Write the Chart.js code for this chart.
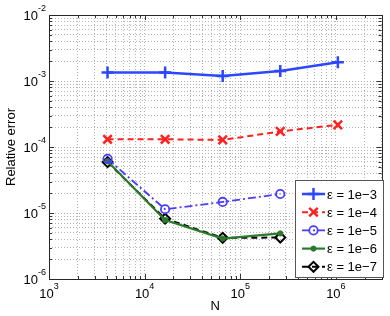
<!DOCTYPE html>
<html>
<head>
<meta charset="utf-8">
<script src="https://cdn.jsdelivr.net/npm/chart.js@4/dist/chart.umd.min.js"></script>
<style>
  body { margin: 0; background: #fff; }
  canvas { display: block; }
</style>
</head>
<body>
<canvas id="errChart" width="390" height="316"></canvas>
<script>
// problem sizes N (4^6 .. 4^10)
const nValues = [4096, 16384, 65536, 262144, 1048576];

// relative error per epsilon
const err1e3 = [1.35e-3, 1.34e-3, 1.19e-3, 1.42e-3, 1.93e-3];
const err1e4 = [1.31e-4, 1.31e-4, 1.28e-4, 1.72e-4, 2.17e-4];
const err1e5 = [6.6e-5, 1.14e-5, 1.47e-5, 1.94e-5];
const err1e6 = [6.1e-5, 7.8e-6, 4.1e-6, 4.9e-6];
const err1e7 = [5.9e-5, 8.2e-6, 4.2e-6, 4.25e-6];

const seriesLabels = ["\u03b5 = 1e\u22123", "\u03b5 = 1e\u22124", "\u03b5 = 1e\u22125", "\u03b5 = 1e\u22126", "\u03b5 = 1e\u22127"];

// axis ranges / decade labels
const xMin = 1e3, xMax = 3e6;
const yMin = 1e-6, yMax = 1e-2;
const xDecades = [3, 4, 5, 6];
const yDecades = [-2, -3, -4, -5, -6];

const FONT = '"Liberation Sans", Arial, sans-serif';

function toPoints(ys){
    return ys.map(function(y, i){ return {x: nValues[i], y: y}; });
}

function logTicks(min, max){
    const out = [];
    const e0 = Math.floor(Math.log10(min));
    const e1 = Math.ceil(Math.log10(max));
    for (let e = e0; e <= e1; e++){
        for (let m = 1; m < 10; m++){
            const v = parseFloat((m * Math.pow(10, e)).toPrecision(6));
            if (v >= min * 0.999 && v <= max * 1.001) out.push(v);
        }
    }
    return out;
}

// box, inward ticks, tick labels, axis titles, legend
const decorPlugin = {
    id: "decor",
    afterDraw: function(chart){
        const ctx = chart.ctx;
        const a = chart.chartArea;
        const sx = chart.scales.x, sy = chart.scales.y;
        ctx.save();

        // inward ticks
        ctx.strokeStyle = "#333";
        ctx.lineWidth = 1;
        ctx.beginPath();
        logTicks(xMin, xMax).forEach(function(v){
            const px = Math.round(sx.getPixelForValue(v)) + 0.5;
            const major = Math.abs(Math.log10(v) % 1) < 1e-6;
            const len = major ? 5 : 3;
            ctx.moveTo(px, a.bottom); ctx.lineTo(px, a.bottom - len);
            ctx.moveTo(px, a.top); ctx.lineTo(px, a.top + len);
        });
        logTicks(yMin, yMax).forEach(function(v){
            const py = Math.round(sy.getPixelForValue(v)) + 0.5;
            const major = Math.abs(Math.log10(v) % 1) < 1e-6;
            const len = major ? 5 : 3;
            ctx.moveTo(a.left, py); ctx.lineTo(a.left + len, py);
            ctx.moveTo(a.right, py); ctx.lineTo(a.right - len, py);
        });
        ctx.stroke();

        // frame
        ctx.strokeStyle = "#262626";
        ctx.strokeRect(Math.round(a.left) + 0.5, Math.round(a.top) + 0.5,
                       Math.round(a.right - a.left), Math.round(a.bottom - a.top));

        // tick labels 10^n
        ctx.fillStyle = "#000";
        ctx.textBaseline = "middle";
        ctx.textAlign = "left";
        const baseFont = "13px " + FONT, supFont = "9px " + FONT;
        function label(exp, px, py, align){
            ctx.font = baseFont;
            const bw = ctx.measureText("10").width;
            ctx.font = supFont;
            const sup = String(exp);
            const sw = ctx.measureText(sup).width;
            let x0 = align === "right" ? px - bw - sw : px - (bw + sw) / 2;
            ctx.font = baseFont;
            ctx.fillText("10", x0, py);
            ctx.font = supFont;
            ctx.fillText(sup, x0 + bw, py - 7);
        }
        xDecades.forEach(function(e){
            label(e, sx.getPixelForValue(Math.pow(10, e)), 294, "center");
        });
        yDecades.forEach(function(e){
            label(e, a.left - 3, sy.getPixelForValue(Math.pow(10, e)) + 1, "right");
        });

        // axis titles
        ctx.font = "13px " + FONT;
        ctx.textAlign = "center";
        ctx.fillText("N", (a.left + a.right) / 2, 306);
        ctx.save();
        ctx.translate(11, (a.top + a.bottom) / 2);
        ctx.rotate(-Math.PI / 2);
        ctx.fillText("Relative error", 0, 0);
        ctx.restore();

        // legend
        const lx = 295, ly = 180, lw = 88, lh = 97;
        ctx.fillStyle = "#fff";
        ctx.fillRect(lx, ly, lw, lh);
        ctx.strokeStyle = "#555";
        ctx.lineWidth = 1;
        ctx.strokeRect(lx + 0.5, ly + 0.5, lw, lh);
        chart.data.datasets.forEach(function(ds, i){
            const cy = 194 + i * 18.2;
            ctx.save();
            ctx.strokeStyle = ds.borderColor;
            ctx.lineWidth = ds.borderWidth;
            ctx.setLineDash(ds.borderDash || []);
            ctx.beginPath();
            ctx.moveTo(302, cy); ctx.lineTo(325, cy);
            ctx.stroke();
            ctx.setLineDash([]);
            ctx.fillStyle = ds.pointBackgroundColor;
            ctx.strokeStyle = ds.borderColor;
            ctx.lineWidth = ds.pointBorderWidth;
            Chart.helpers.drawPoint(ctx, {
                pointStyle: ds.pointStyle,
                radius: ds.pointRadius,
                rotation: 0,
                borderWidth: ds.pointBorderWidth
            }, 313.5, cy);
            ctx.restore();
            ctx.fillStyle = "#000";
            ctx.font = "13px " + FONT;
            ctx.textAlign = "left";
            ctx.textBaseline = "middle";
            ctx.fillText(ds.label, 327, cy + 1);
        });

        ctx.restore();
    }
};

const gridOpts = { color: "#b4b4b4", lineWidth: 1, drawTicks: false };
const borderOpts = { display: false, dash: [1, 2] };

const myChart = new Chart(document.getElementById("errChart"), {
    type: "line",
    data: {
        datasets: [
            {
                label: seriesLabels[0], data: toPoints(err1e3),
                borderColor: "#2b47ff", borderWidth: 2.5,
                pointStyle: "cross", pointRadius: 6, pointBorderWidth: 2.5,
                pointBackgroundColor: "rgba(0,0,0,0)"
            },
            {
                label: seriesLabels[1], data: toPoints(err1e4),
                borderColor: "#ff2020", borderWidth: 2, borderDash: [6, 4],
                pointStyle: "crossRot", pointRadius: 6, pointBorderWidth: 2.5,
                pointBackgroundColor: "rgba(0,0,0,0)"
            },
            {
                label: seriesLabels[2], data: toPoints(err1e5),
                borderColor: "#4b3cff", borderWidth: 1.8, borderDash: [8, 3, 2, 3],
                pointStyle: "circle", pointRadius: 4.2, pointBorderWidth: 1.8,
                pointBackgroundColor: "rgba(0,0,0,0)"
            },
            {
                label: seriesLabels[3], data: toPoints(err1e6),
                borderColor: "#2a7a2a", borderWidth: 2.2,
                pointStyle: "circle", pointRadius: 2.6, pointBorderWidth: 1,
                pointBackgroundColor: "#2a7a2a"
            },
            {
                label: seriesLabels[4], data: toPoints(err1e7),
                borderColor: "#000", borderWidth: 2, borderDash: [6, 4],
                pointStyle: "rectRot", pointRadius: 5, pointBorderWidth: 2,
                pointBackgroundColor: "rgba(0,0,0,0)"
            }
        ]
    },
    options: {
        responsive: false,
        animation: false,
        devicePixelRatio: 1,
        layout: { padding: { left: 49, top: 15, right: 6, bottom: 37 } },
        elements: { line: { tension: 0, fill: false } },
        scales: {
            x: {
                type: "logarithmic", min: xMin, max: xMax,
                afterBuildTicks: function(scale){
                    scale.ticks = logTicks(xMin, xMax).map(function(v){ return {value: v}; });
                },
                ticks: { display: false },
                grid: gridOpts, border: borderOpts
            },
            y: {
                type: "logarithmic", min: yMin, max: yMax,
                afterBuildTicks: function(scale){
                    scale.ticks = logTicks(yMin, yMax).map(function(v){ return {value: v}; });
                },
                ticks: { display: false },
                grid: gridOpts, border: borderOpts
            }
        },
        plugins: {
            legend: { display: false },
            tooltip: { enabled: false }
        }
    },
    plugins: [decorPlugin]
});
</script>
</body>
</html>
